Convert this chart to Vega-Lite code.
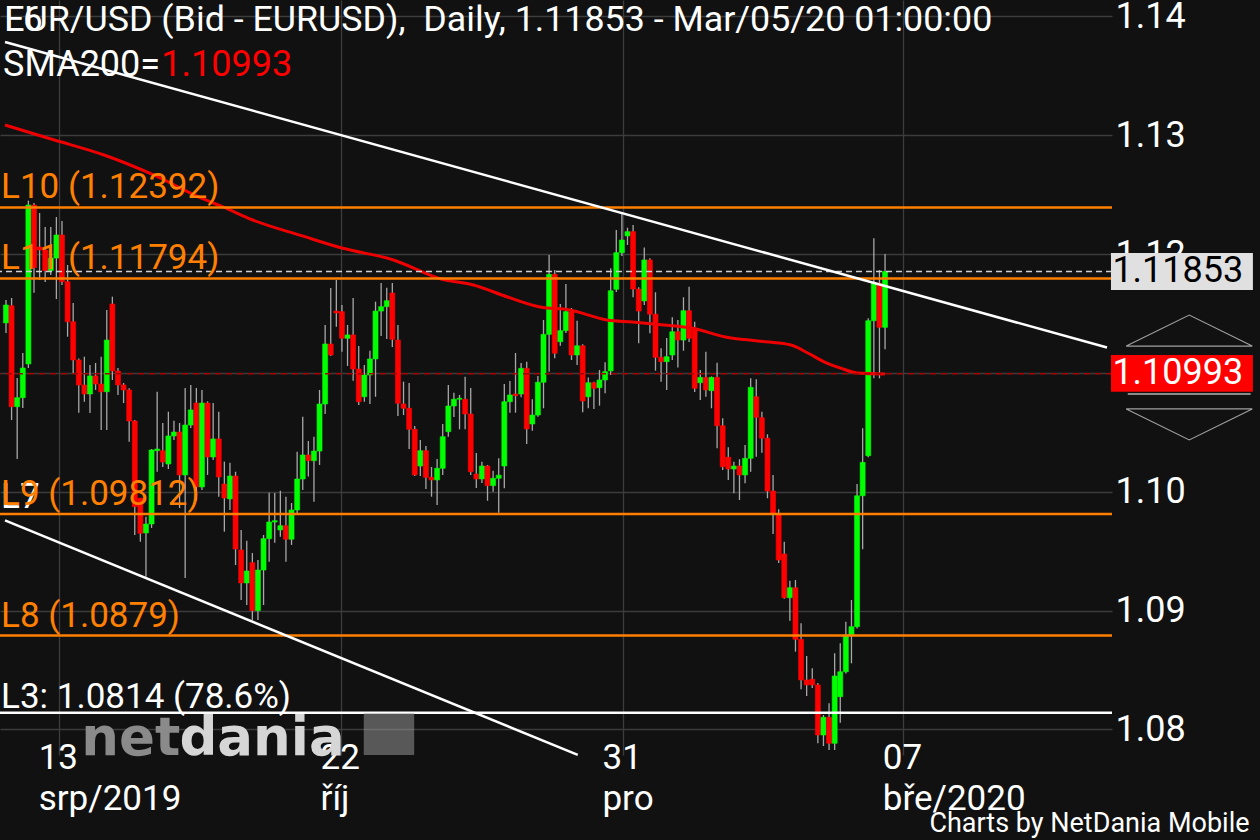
{
"$schema": "https://vega.github.io/schema/vega-lite/v6.json",
"width": 1112,
"height": 755,
"autosize": {"type": "none"},
"padding": {"left": 0, "top": 0, "right": 148, "bottom": 85},
"background": "#111111",
"config": {"view": {"stroke": null}, "font": "Roboto", "axis": {"zindex": 0}},
"datasets": {
"one": [{}],
"candles": [
{"n":0,"o":1.1142,"h":1.11613,"l":1.11335,"c":1.11571},
{"n":1,"o":1.11565,"h":1.1163,"l":1.10603,"c":1.10715},
{"n":2,"o":1.10715,"h":1.10957,"l":1.10275,"c":1.10791},
{"n":3,"o":1.10791,"h":1.11167,"l":1.10704,"c":1.11041},
{"n":4,"o":1.11075,"h":1.12449,"l":1.11041,"c":1.12412},
{"n":5,"o":1.12412,"h":1.12429,"l":1.11674,"c":1.11885},
{"n":6,"o":1.12059,"h":1.12345,"l":1.11781,"c":1.12034},
{"n":7,"o":1.12034,"h":1.12227,"l":1.11765,"c":1.1186},
{"n":8,"o":1.1186,"h":1.12227,"l":1.11823,"c":1.11966},
{"n":9,"o":1.11966,"h":1.12311,"l":1.11621,"c":1.1216},
{"n":10,"o":1.1216,"h":1.12278,"l":1.11739,"c":1.11767},
{"n":11,"o":1.11767,"h":1.11908,"l":1.11304,"c":1.1143},
{"n":12,"o":1.1143,"h":1.11588,"l":1.10999,"c":1.11108},
{"n":13,"o":1.11108,"h":1.1112,"l":1.10665,"c":1.10898},
{"n":14,"o":1.10898,"h":1.11136,"l":1.10757,"c":1.10822},
{"n":15,"o":1.10822,"h":1.11066,"l":1.10662,"c":1.10974},
{"n":16,"o":1.10974,"h":1.11083,"l":1.10856,"c":1.10906},
{"n":17,"o":1.10906,"h":1.11136,"l":1.10519,"c":1.10841},
{"n":18,"o":1.10841,"h":1.11529,"l":1.10519,"c":1.11276},
{"n":19,"o":1.11579,"h":1.11641,"l":1.1094,"c":1.11016},
{"n":20,"o":1.11016,"h":1.11041,"l":1.10814,"c":1.10898},
{"n":21,"o":1.10898,"h":1.10915,"l":1.10746,"c":1.10856},
{"n":22,"o":1.10856,"h":1.1087,"l":1.10421,"c":1.10595},
{"n":23,"o":1.10595,"h":1.10603,"l":1.09636,"c":1.09874},
{"n":24,"o":1.09945,"h":1.09947,"l":1.09579,"c":1.0965},
{"n":25,"o":1.09653,"h":1.0979,"l":1.09285,"c":1.09728},
{"n":26,"o":1.09728,"h":1.10359,"l":1.09695,"c":1.10351},
{"n":27,"o":1.10345,"h":1.10841,"l":1.10168,"c":1.10359},
{"n":28,"o":1.10345,"h":1.10578,"l":1.10208,"c":1.1025},
{"n":29,"o":1.10233,"h":1.10673,"l":1.10191,"c":1.10469},
{"n":30,"o":1.10469,"h":1.10597,"l":1.10435,"c":1.10502},
{"n":31,"o":1.10502,"h":1.10578,"l":1.09863,"c":1.10141},
{"n":32,"o":1.10141,"h":1.10873,"l":1.09274,"c":1.10561},
{"n":33,"o":1.10561,"h":1.10898,"l":1.10536,"c":1.10688},
{"n":34,"o":1.10746,"h":1.10873,"l":1.0993,"c":1.1004},
{"n":35,"o":1.1004,"h":1.10856,"l":1.10014,"c":1.10746},
{"n":36,"o":1.10746,"h":1.1076,"l":1.10141,"c":1.10292},
{"n":37,"o":1.10292,"h":1.10746,"l":1.10267,"c":1.10444},
{"n":38,"o":1.10444,"h":1.10673,"l":1.09958,"c":1.10124},
{"n":39,"o":1.10065,"h":1.10253,"l":1.09664,"c":1.09947},
{"n":40,"o":1.09939,"h":1.10244,"l":1.09846,"c":1.10132},
{"n":41,"o":1.10132,"h":1.10168,"l":1.09383,"c":1.09518},
{"n":42,"o":1.0951,"h":1.09678,"l":1.09089,"c":1.09232},
{"n":43,"o":1.09232,"h":1.09588,"l":1.09047,"c":1.09333},
{"n":44,"o":1.09403,"h":1.09484,"l":1.08921,"c":1.08999},
{"n":45,"o":1.08999,"h":1.09425,"l":1.08921,"c":1.09341},
{"n":46,"o":1.09341,"h":1.09636,"l":1.09047,"c":1.09605},
{"n":47,"o":1.09605,"h":1.09992,"l":1.09411,"c":1.09745},
{"n":48,"o":1.09745,"h":1.09989,"l":1.09571,"c":1.09756},
{"n":49,"o":1.09678,"h":1.10008,"l":1.09621,"c":1.09714},
{"n":50,"o":1.09714,"h":1.09958,"l":1.09411,"c":1.096},
{"n":51,"o":1.096,"h":1.09905,"l":1.09552,"c":1.09846},
{"n":52,"o":1.09846,"h":1.10337,"l":1.09804,"c":1.10107},
{"n":53,"o":1.10107,"h":1.10631,"l":1.10014,"c":1.10309},
{"n":54,"o":1.10309,"h":1.10427,"l":1.10127,"c":1.10261},
{"n":55,"o":1.10261,"h":1.10463,"l":1.09916,"c":1.10342},
{"n":56,"o":1.10342,"h":1.10856,"l":1.10225,"c":1.10738},
{"n":57,"o":1.10738,"h":1.11403,"l":1.10654,"c":1.11243},
{"n":58,"o":1.11243,"h":1.11714,"l":1.11142,"c":1.1115},
{"n":59,"o":1.1152,"h":1.11781,"l":1.11388,"c":1.11504},
{"n":60,"o":1.11515,"h":1.11571,"l":1.11178,"c":1.11291},
{"n":61,"o":1.11291,"h":1.11403,"l":1.11058,"c":1.11319},
{"n":62,"o":1.11319,"h":1.1163,"l":1.10934,"c":1.11032},
{"n":63,"o":1.11032,"h":1.11226,"l":1.1073,"c":1.10757},
{"n":64,"o":1.10799,"h":1.11066,"l":1.10757,"c":1.10982},
{"n":65,"o":1.10982,"h":1.11186,"l":1.10738,"c":1.11117},
{"n":66,"o":1.11117,"h":1.11599,"l":1.10799,"c":1.1152},
{"n":67,"o":1.1152,"h":1.11756,"l":1.1131,"c":1.11557},
{"n":68,"o":1.11557,"h":1.11717,"l":1.11285,"c":1.11607},
{"n":69,"o":1.11672,"h":1.11756,"l":1.11218,"c":1.11282},
{"n":70,"o":1.11276,"h":1.11403,"l":1.10637,"c":1.10744},
{"n":71,"o":1.10738,"h":1.10926,"l":1.10645,"c":1.10702},
{"n":72,"o":1.10702,"h":1.10915,"l":1.10359,"c":1.10525},
{"n":73,"o":1.10525,"h":1.10553,"l":1.10132,"c":1.10141},
{"n":74,"o":1.10216,"h":1.10435,"l":1.10132,"c":1.10345},
{"n":75,"o":1.10345,"h":1.10385,"l":1.10023,"c":1.10121},
{"n":76,"o":1.10121,"h":1.10208,"l":1.09958,"c":1.10099},
{"n":77,"o":1.10099,"h":1.10275,"l":1.09888,"c":1.10197},
{"n":78,"o":1.10197,"h":1.1057,"l":1.10141,"c":1.10463},
{"n":79,"o":1.10505,"h":1.10898,"l":1.10463,"c":1.10721},
{"n":80,"o":1.10721,"h":1.10833,"l":1.10629,"c":1.10778},
{"n":81,"o":1.10778,"h":1.10814,"l":1.10525,"c":1.10786},
{"n":82,"o":1.10778,"h":1.10968,"l":1.10525,"c":1.10654},
{"n":83,"o":1.10654,"h":1.10873,"l":1.10141,"c":1.10168},
{"n":84,"o":1.10149,"h":1.10326,"l":1.10031,"c":1.10107},
{"n":85,"o":1.10107,"h":1.10253,"l":1.10073,"c":1.10216},
{"n":86,"o":1.10216,"h":1.10225,"l":1.09924,"c":1.10051},
{"n":87,"o":1.10051,"h":1.10177,"l":1.1,"c":1.10113},
{"n":88,"o":1.10113,"h":1.10281,"l":1.09823,"c":1.10139},
{"n":89,"o":1.10216,"h":1.10906,"l":1.10029,"c":1.10757},
{"n":90,"o":1.10757,"h":1.10932,"l":1.10665,"c":1.10814},
{"n":91,"o":1.10822,"h":1.11167,"l":1.10665,"c":1.10808},
{"n":92,"o":1.10822,"h":1.11083,"l":1.10794,"c":1.11038},
{"n":93,"o":1.11038,"h":1.11094,"l":1.10401,"c":1.10528},
{"n":94,"o":1.1057,"h":1.10778,"l":1.10513,"c":1.10645},
{"n":95,"o":1.10645,"h":1.10974,"l":1.10631,"c":1.10921},
{"n":96,"o":1.10921,"h":1.11445,"l":1.10702,"c":1.11324},
{"n":97,"o":1.11324,"h":1.11992,"l":1.1101,"c":1.11829},
{"n":98,"o":1.11829,"h":1.11865,"l":1.11123,"c":1.11165},
{"n":99,"o":1.11262,"h":1.11579,"l":1.11229,"c":1.11355},
{"n":100,"o":1.11355,"h":1.11748,"l":1.11335,"c":1.11515},
{"n":101,"o":1.11515,"h":1.11546,"l":1.11108,"c":1.1115},
{"n":102,"o":1.1115,"h":1.11439,"l":1.11066,"c":1.11228},
{"n":103,"o":1.11228,"h":1.1124,"l":1.10668,"c":1.10763},
{"n":104,"o":1.10799,"h":1.1096,"l":1.10702,"c":1.10917},
{"n":105,"o":1.10917,"h":1.10925,"l":1.10696,"c":1.1087},
{"n":106,"o":1.10875,"h":1.11024,"l":1.10724,"c":1.1094},
{"n":107,"o":1.1094,"h":1.11089,"l":1.10828,"c":1.1101},
{"n":108,"o":1.11016,"h":1.1188,"l":1.10982,"c":1.11691},
{"n":109,"o":1.11703,"h":1.12202,"l":1.1168,"c":1.12011},
{"n":110,"o":1.12011,"h":1.12337,"l":1.11983,"c":1.12118},
{"n":111,"o":1.12152,"h":1.12221,"l":1.12076,"c":1.12188},
{"n":112,"o":1.12188,"h":1.12244,"l":1.11636,"c":1.11705},
{"n":113,"o":1.11705,"h":1.1172,"l":1.11249,"c":1.1152},
{"n":114,"o":1.11605,"h":1.12054,"l":1.11571,"c":1.1195},
{"n":115,"o":1.1195,"h":1.11965,"l":1.11333,"c":1.11494},
{"n":116,"o":1.11494,"h":1.11678,"l":1.11018,"c":1.11131},
{"n":117,"o":1.11131,"h":1.11207,"l":1.10926,"c":1.11094},
{"n":118,"o":1.11094,"h":1.11293,"l":1.10856,"c":1.11136},
{"n":119,"o":1.1115,"h":1.11467,"l":1.11108,"c":1.11346},
{"n":120,"o":1.11346,"h":1.11445,"l":1.11046,"c":1.11276},
{"n":121,"o":1.11276,"h":1.11636,"l":1.11186,"c":1.11523},
{"n":122,"o":1.11523,"h":1.11725,"l":1.1126,"c":1.11291},
{"n":123,"o":1.11375,"h":1.1143,"l":1.10839,"c":1.1087},
{"n":124,"o":1.10917,"h":1.11024,"l":1.10772,"c":1.10962},
{"n":125,"o":1.10962,"h":1.11178,"l":1.10799,"c":1.10856},
{"n":126,"o":1.1085,"h":1.1097,"l":1.10702,"c":1.10962},
{"n":127,"o":1.10962,"h":1.11085,"l":1.10365,"c":1.10555},
{"n":128,"o":1.10555,"h":1.10618,"l":1.10183,"c":1.1021},
{"n":129,"o":1.1029,"h":1.10374,"l":1.10099,"c":1.10191},
{"n":130,"o":1.10191,"h":1.10253,"l":1.09987,"c":1.10216},
{"n":131,"o":1.10216,"h":1.10273,"l":1.0993,"c":1.10141},
{"n":132,"o":1.10141,"h":1.10393,"l":1.10071,"c":1.10281},
{"n":133,"o":1.10281,"h":1.10954,"l":1.10168,"c":1.10878},
{"n":134,"o":1.10799,"h":1.10946,"l":1.10295,"c":1.10626},
{"n":135,"o":1.10623,"h":1.10673,"l":1.10328,"c":1.1045},
{"n":136,"o":1.1045,"h":1.10483,"l":1.09945,"c":1.10006},
{"n":137,"o":1.10006,"h":1.10141,"l":1.09644,"c":1.09818},
{"n":138,"o":1.09818,"h":1.09852,"l":1.094,"c":1.09425},
{"n":139,"o":1.09476,"h":1.09579,"l":1.091,"c":1.09108},
{"n":140,"o":1.09108,"h":1.09251,"l":1.08915,"c":1.09192},
{"n":141,"o":1.09192,"h":1.09257,"l":1.08654,"c":1.08758},
{"n":142,"o":1.08758,"h":1.08893,"l":1.08337,"c":1.08416},
{"n":143,"o":1.08416,"h":1.08618,"l":1.08281,"c":1.08374},
{"n":144,"o":1.08422,"h":1.08514,"l":1.08348,"c":1.08374},
{"n":145,"o":1.08374,"h":1.0839,"l":1.07883,"c":1.07953},
{"n":146,"o":1.07953,"h":1.08121,"l":1.0786,"c":1.08102},
{"n":147,"o":1.08102,"h":1.0822,"l":1.07827,"c":1.07883},
{"n":148,"o":1.07883,"h":1.0864,"l":1.07827,"c":1.08449},
{"n":149,"o":1.08275,"h":1.08724,"l":1.08056,"c":1.08485},
{"n":150,"o":1.08485,"h":1.08906,"l":1.0847,"c":1.08794},
{"n":151,"o":1.08794,"h":1.09089,"l":1.08556,"c":1.08864},
{"n":152,"o":1.08864,"h":1.10065,"l":1.0885,"c":1.09966},
{"n":153,"o":1.09966,"h":1.10533,"l":1.09515,"c":1.10247},
{"n":154,"o":1.10303,"h":1.1146,"l":1.1029,"c":1.11439},
{"n":155,"o":1.11439,"h":1.12132,"l":1.10954,"c":1.11754},
{"n":156,"o":1.11754,"h":1.11865,"l":1.10954,"c":1.11383},
{"n":157,"o":1.11383,"h":1.12,"l":1.11198,"c":1.11853}
],
"sma": [
{"n":-0.18,"p":1.13085},{"n":8.67,"p":1.12959},{"n":17.52,"p":1.12833},{"n":26.37,"p":1.12665},{"n":35.22,"p":1.12463},{"n":38.76,"p":1.12396},{"n":44.07,"p":1.12286},{"n":52.92,"p":1.12152},{"n":60.0,"p":1.1205},{"n":69.2,"p":1.1195},{"n":77.7,"p":1.1179},{"n":83.5,"p":1.11739},{"n":89.6,"p":1.11638},{"n":95.4,"p":1.11554},{"n":100.7,"p":1.11529},{"n":107.3,"p":1.11445},{"n":111.9,"p":1.11428},{"n":117.5,"p":1.11403},{"n":122.5,"p":1.11377},{"n":128.5,"p":1.11302},{"n":134.3,"p":1.11268},{"n":140.2,"p":1.11234},{"n":143.2,"p":1.11167},{"n":146.2,"p":1.11091},{"n":149.0,"p":1.11041},{"n":152.0,"p":1.10999},{"n":157.0,"p":1.1099}
],
"trend": [
{"line":"upper","n":-0.177,"p":1.13784},{"line":"upper","n":196.64,"p":1.11213},
{"line":"lower","n":-0.177,"p":1.09759},{"line":"lower","n":102.12,"p":1.07785}
],
"levels": [
{"label":"L10 (1.12392)","price":1.12392},
{"label":"L11 (1.11794)","price":1.11794},
{"label":"L9 (1.09812)","price":1.09812},
{"label":"L8 (1.0879)","price":1.0879}
]
},
"layer": [
{"data": {"name": "candles"},
 "mark": {"type": "rule", "color": "#a8a8a8", "strokeWidth": 1.3},
 "encoding": {
  "x": {"field": "n", "type": "quantitative",
   "scale": {"domain": [-0.177, 196.64], "nice": false, "zero": false},
   "axis": {"orient": "bottom", "title": null, "values": [9.49, 59.84, 110.19, 160.25],
    "labelExpr": "datum.value < 30 ? ['13', 'srp/2019'] : datum.value < 80 ? ['22', 'říj'] : datum.value < 130 ? ['31', 'pro'] : ['07', 'bře/2020']",
    "domain": false, "ticks": false, "grid": true, "gridColor": "#3c3c3c", "gridWidth": 1.3,
    "labelColor": "#ffffff", "labelFont": "Roboto", "labelFontSize": 35, "labelAlign": "left",
    "labelBaseline": "alphabetic", "labelOffset": -21, "labelPadding": 13, "labelLineHeight": 41,
    "labelFlush": false, "labelOverlap": false, "labelBound": false}},
  "y": {"field": "l", "type": "quantitative",
   "scale": {"domain": [1.077846, 1.141372], "nice": false, "zero": false},
   "axis": {"orient": "right", "title": null, "values": [1.08, 1.09, 1.1, 1.11, 1.12, 1.13, 1.14],
    "format": ".2f", "domain": false, "ticks": false, "grid": true, "gridColor": "#3c3c3c", "gridWidth": 1.3,
    "labelColor": "#ffffff", "labelFont": "Roboto", "labelFontSize": 36, "labelPadding": 3,
    "labelBaseline": "middle", "labelFlush": false, "labelOverlap": false}},
  "y2": {"field": "h"}
 }},
{"data": {"name": "candles"},
 "mark": {"type": "bar", "size": 5, "strokeWidth": 0.6},
 "encoding": {
  "x": {"field": "n", "type": "quantitative"},
  "y": {"field": "o", "type": "quantitative"},
  "y2": {"field": "c"},
  "fill": {"condition": {"test": "datum.c >= datum.o", "value": "#00ff00"}, "value": "#ff0000"},
  "stroke": {"condition": {"test": "datum.c >= datum.o", "value": "#00ff00"}, "value": "#ff0000"}
 }},
{"data": {"name": "sma"},
 "mark": {"type": "line", "color": "#ee0000", "strokeWidth": 3, "interpolate": "monotone"},
 "encoding": {"x": {"field": "n", "type": "quantitative"}, "y": {"field": "p", "type": "quantitative"}}},
{"data": {"name": "one"},
 "mark": {"type": "rule", "color": "#d0d0d0", "strokeWidth": 1.5, "strokeDash": [6, 4]},
 "encoding": {"y": {"datum": 1.11853, "type": "quantitative"}}},
{"data": {"name": "one"},
 "mark": {"type": "rule", "color": "#a80000", "strokeWidth": 1.5, "strokeDash": [6, 5]},
 "encoding": {"y": {"datum": 1.10993, "type": "quantitative"}}},
{"data": {"name": "levels"},
 "mark": {"type": "rule", "color": "#ff8000", "strokeWidth": 2.5},
 "encoding": {"y": {"field": "price", "type": "quantitative"}}},
{"data": {"name": "one"},
 "mark": {"type": "rule", "color": "#ffffff", "strokeWidth": 2.5},
 "encoding": {"y": {"datum": 1.0814, "type": "quantitative"}}},
{"data": {"name": "trend"},
 "mark": {"type": "line", "color": "#ffffff", "strokeWidth": 2.5},
 "encoding": {"x": {"field": "n", "type": "quantitative"}, "y": {"field": "p", "type": "quantitative"}, "detail": {"field": "line"}}},
{"data": {"name": "one"},
 "mark": {"type": "text", "text": "L7", "color": "#ffffff", "font": "Roboto", "fontSize": 35, "align": "left", "baseline": "alphabetic", "dy": -6},
 "encoding": {"x": {"datum": -0.88, "type": "quantitative"}, "y": {"datum": 1.09812, "type": "quantitative"}}},
{"data": {"name": "levels"},
 "mark": {"type": "text", "color": "#ff8000", "font": "Roboto", "fontSize": 35, "align": "left", "baseline": "alphabetic", "dy": -9},
 "encoding": {"x": {"datum": -0.88, "type": "quantitative"}, "y": {"field": "price", "type": "quantitative"}, "text": {"field": "label"}}},
{"data": {"name": "one"},
 "mark": {"type": "text", "text": "L3: 1.0814 (78.6%)", "color": "#ffffff", "font": "Roboto", "fontSize": 35, "align": "left", "baseline": "alphabetic", "dy": -5},
 "encoding": {"x": {"datum": -0.88, "type": "quantitative"}, "y": {"datum": 1.0814, "type": "quantitative"}}},
{"data": {"name": "one"},
 "mark": {"type": "text", "text": "L6", "color": "#ffffff", "font": "Roboto", "fontSize": 35, "align": "left", "baseline": "alphabetic"},
 "encoding": {"x": {"datum": -0.33, "type": "quantitative"}, "y": {"datum": 1.1388, "type": "quantitative"}}},
{"data": {"name": "one"},
 "mark": {"type": "text", "text": "EUR/USD (Bid - EURUSD),\u00a0 Daily, 1.11853 - Mar/05/20 01:00:00", "color": "#ffffff", "font": "Roboto", "fontSize": 35.8, "align": "left", "baseline": "alphabetic"},
 "encoding": {"x": {"datum": -0.33, "type": "quantitative"}, "y": {"datum": 1.1388, "type": "quantitative"}}},
{"data": {"name": "one"},
 "mark": {"type": "text", "text": "SMA200=", "color": "#ffffff", "font": "Roboto", "fontSize": 36, "align": "left", "baseline": "alphabetic"},
 "encoding": {"x": {"datum": -0.53, "type": "quantitative"}, "y": {"datum": 1.13501, "type": "quantitative"}}},
{"data": {"name": "one"},
 "mark": {"type": "text", "text": "1.10993", "color": "#ff0000", "font": "Roboto", "fontSize": 36, "align": "left", "baseline": "alphabetic"},
 "encoding": {"x": {"datum": 27.75, "type": "quantitative"}, "y": {"datum": 1.13501, "type": "quantitative"}}},
{"data": {"name": "one"},
 "mark": {"type": "text", "text": "net", "color": "#8a8a8a", "font": "DejaVu Sans", "fontWeight": "bold", "fontSize": 53, "align": "left", "baseline": "alphabetic"},
 "encoding": {"x": {"datum": 13.45, "type": "quantitative"}, "y": {"datum": 1.07785, "type": "quantitative"}}},
{"data": {"name": "one"},
 "mark": {"type": "text", "text": "dania", "color": "#d6d6d6", "font": "DejaVu Sans", "fontWeight": "bold", "fontSize": 53, "align": "left", "baseline": "alphabetic"},
 "encoding": {"x": {"datum": 30.97, "type": "quantitative"}, "y": {"datum": 1.07785, "type": "quantitative"}}},
{"data": {"name": "one"},
 "mark": {"type": "rect", "color": "#a0a0a0", "opacity": 0.5},
 "encoding": {"x": {"datum": 63.9, "type": "quantitative"}, "x2": {"datum": 72.9}, "y": {"datum": 1.08138, "type": "quantitative"}, "y2": {"datum": 1.07785}}},
{"data": {"name": "one"},
 "mark": {"type": "rect", "color": "#e0e0e0"},
 "encoding": {"x": {"datum": 197.35, "type": "quantitative"}, "x2": {"datum": 222.7}, "y": {"datum": 1.12008, "type": "quantitative"}, "y2": {"datum": 1.11697}}},
{"data": {"name": "one"},
 "mark": {"type": "text", "text": "1.11853", "color": "#000000", "font": "Roboto", "fontSize": 36, "align": "left", "baseline": "middle"},
 "encoding": {"x": {"datum": 197.6, "type": "quantitative"}, "y": {"datum": 1.11853, "type": "quantitative"}}},
{"data": {"name": "one"},
 "mark": {"type": "rule", "color": "#8a8a8a", "strokeWidth": 2},
 "encoding": {"x": {"datum": 200.35, "type": "quantitative"}, "x2": {"datum": 222.3}, "y": {"datum": 1.10822, "type": "quantitative"}}},
{"data": {"name": "one"},
 "mark": {"type": "rect", "color": "#ff0000"},
 "encoding": {"x": {"datum": 197.35, "type": "quantitative"}, "x2": {"datum": 222.7}, "y": {"datum": 1.1115, "type": "quantitative"}, "y2": {"datum": 1.10841}}},
{"data": {"name": "one"},
 "mark": {"type": "text", "text": "1.10993", "color": "#ffffff", "font": "Roboto", "fontSize": 36, "align": "left", "baseline": "middle"},
 "encoding": {"x": {"datum": 197.6, "type": "quantitative"}, "y": {"datum": 1.10996, "type": "quantitative"}}},
{"data": {"name": "one"},
 "mark": {"type": "point", "shape": "M-1,0.246L0,-0.246L1,0.246Z", "size": 15876, "filled": false, "color": "#dddddd", "strokeWidth": 1.2},
 "encoding": {"x": {"datum": 211.33, "type": "quantitative"}, "y": {"datum": 1.11356, "type": "quantitative"}}},
{"data": {"name": "one"},
 "mark": {"type": "point", "shape": "M-1,-0.246L0,0.246L1,-0.246Z", "size": 15876, "filled": false, "color": "#dddddd", "strokeWidth": 1.2},
 "encoding": {"x": {"datum": 211.33, "type": "quantitative"}, "y": {"datum": 1.10566, "type": "quantitative"}}},
{"data": {"name": "one"},
 "mark": {"type": "text", "text": "Charts by NetDania Mobile", "color": "#ffffff", "font": "Roboto", "fontSize": 27, "align": "right", "baseline": "alphabetic"},
 "encoding": {"x": {"datum": 222.1, "type": "quantitative"}, "y": {"datum": 1.07137, "type": "quantitative"}}}
]
}
